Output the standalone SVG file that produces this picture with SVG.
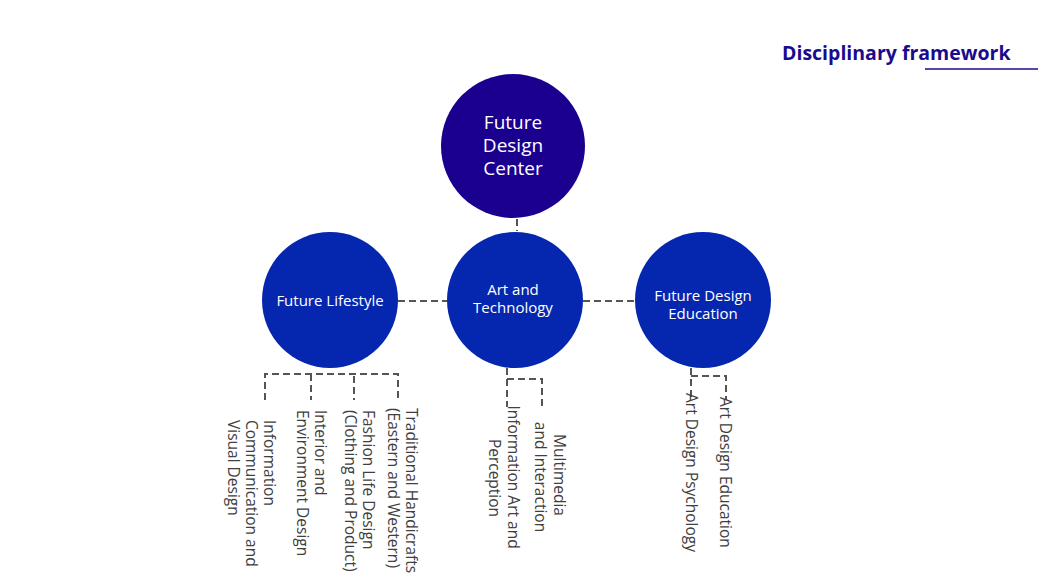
<svg xmlns="http://www.w3.org/2000/svg" width="1038" height="581" viewBox="0 0 1038 581">
<style>
.c1{fill:#1b0090}
.c2{fill:#0527b0}
.nt{font-family:"Open Sans","Noto Sans",sans-serif;fill:#fff;text-anchor:middle}
.lb{font-family:"Open Sans","Noto Sans",sans-serif;fill:#404040;font-size:15.5px}
.dl{fill:none;stroke:#555;stroke-width:2;stroke-dasharray:7 4}
.title{font-family:"Open Sans","Noto Sans",sans-serif;font-weight:bold;font-size:19.5px;fill:#1a0a8c}
</style>
<rect width="1038" height="581" fill="#fff"/>
<g id="title">
<text class="title" x="782" y="60">Disciplinary framework</text>
<line x1="925" y1="69" x2="1038" y2="69" stroke="#1a0a8c" stroke-width="1.5"/>
</g>
<g id="connectors">
<line class="dl" x1="517" y1="219" x2="517" y2="231"/>
<line class="dl" x1="398" y1="301" x2="447" y2="301"/>
<line class="dl" x1="583" y1="301" x2="635" y2="301"/>
<path class="dl" d="M265 400 V374 H398 V400 M311 374 V400 M354 376 V400"/>
<path class="dl" d="M507 368 V407 M507 379 H542 V406"/>
<path class="dl" d="M691 368 V398 M691 376 H726 V400"/>
</g>
<g id="center">
<circle class="c1" cx="513" cy="146" r="72"/>
<text class="nt" font-size="19"><tspan x="513" y="129">Future</tspan><tspan x="513" y="152">Design</tspan><tspan x="513" y="175">Center</tspan></text>
</g>
<g id="lifestyle">
<circle class="c2" cx="330" cy="300" r="68"/>
<text class="nt" font-size="15" x="330" y="306">Future Lifestyle</text>
</g>
<g id="arttech">
<circle class="c2" cx="515" cy="300" r="68"/>
<text class="nt" font-size="15" x="513" y="295">Art and</text>
<text class="nt" font-size="15" x="513" y="313">Technology</text>
</g>
<g id="education">
<circle class="c2" cx="703" cy="300" r="68"/>
<text class="nt" font-size="15" x="703" y="301">Future Design</text>
<text class="nt" font-size="15" x="703" y="319">Education</text>
</g>
<g id="lifestyle-labels">
<text class="lb" transform="translate(406 408) rotate(90)">Traditional Handicrafts</text>
<text class="lb" transform="translate(388 408) rotate(90)">(Eastern and Western)</text>
<text class="lb" transform="translate(363 410) rotate(90)">Fashion Life Design</text>
<text class="lb" transform="translate(345 410) rotate(90)">(Clothing and Product)</text>
<text class="lb" transform="translate(315 410) rotate(90)">Interior and</text>
<text class="lb" transform="translate(297 410) rotate(90)">Environment Design</text>
<text class="lb" transform="translate(264 420) rotate(90)">Information</text>
<text class="lb" transform="translate(246 420) rotate(90)">Communication and</text>
<text class="lb" transform="translate(228 420) rotate(90)">Visual Design</text>
</g>
<g id="arttech-labels">
<text class="lb" text-anchor="middle" transform="translate(554 475) rotate(90)">Multimedia</text>
<text class="lb" text-anchor="middle" transform="translate(535 477) rotate(90)">and Interaction</text>
<text class="lb" text-anchor="middle" transform="translate(508 477) rotate(90)">Information Art and</text>
<text class="lb" text-anchor="middle" transform="translate(489 478) rotate(90)">Perception</text>
</g>
<g id="education-labels">
<text class="lb" transform="translate(686 393) rotate(90)">Art Design Psychology</text>
<text class="lb" transform="translate(720 397) rotate(90)">Art Design Education</text>
</g>
</svg>
